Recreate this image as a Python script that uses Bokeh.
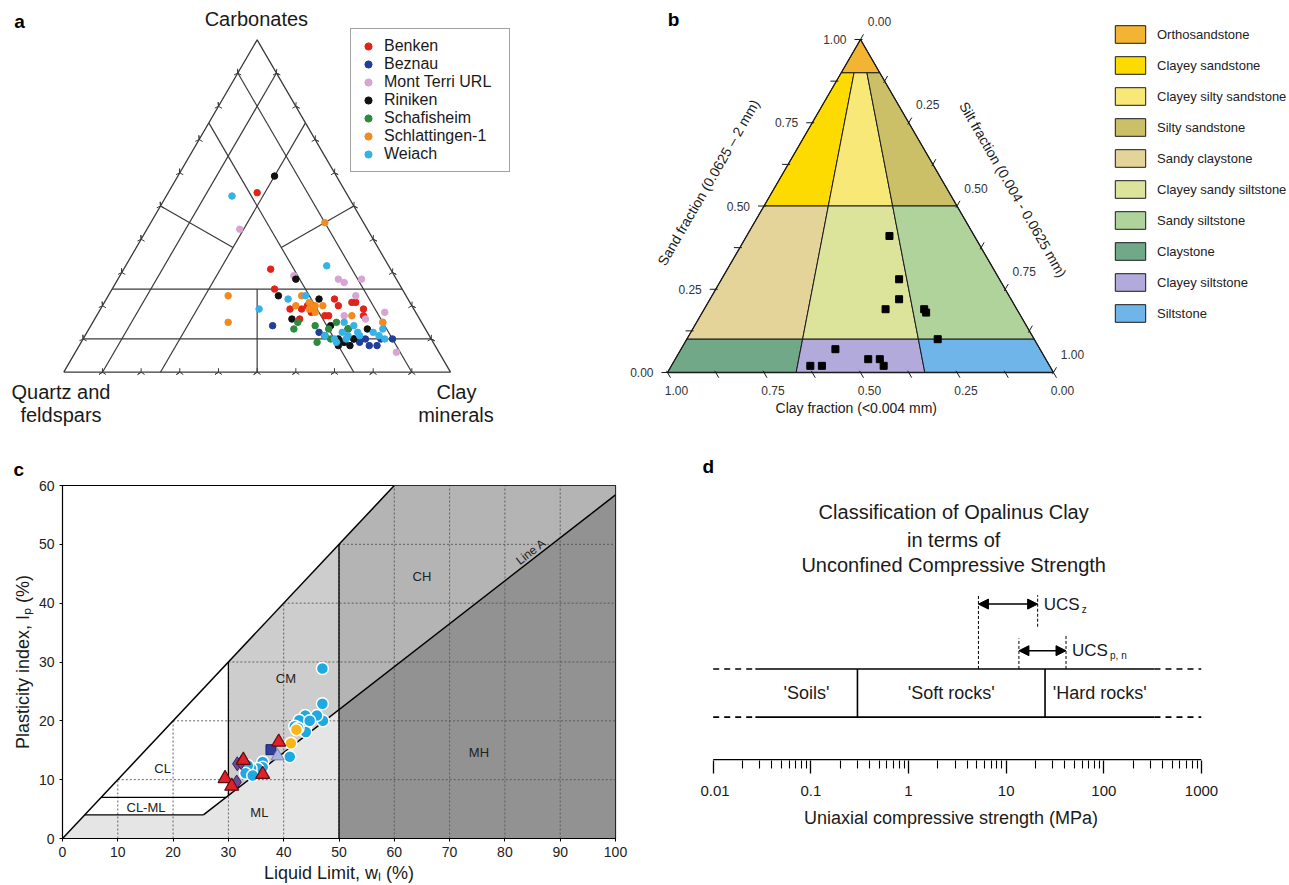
import numpy as np
from bokeh.plotting import figure
from bokeh.layouts import column, row
from bokeh.models import (Range1d, Legend, LegendItem, Arrow, NormalHead,
                          FixedTicker, CustomJSTickFormatter, Title)
from bokeh.core.properties import value
from bokeh.embed import file_html
from bokeh.resources import INLINE

FONT = "Liberation Sans"
S = np.sqrt(3) / 2

# ---------------- Panel a data: mineralogy fractions ----------------
sites = ["Benken", "Beznau", "Mont Terri URL", "Riniken", "Schafisheim", "Schlattingen-1", "Weiach"]
site_colors = ["#E2231A", "#233D9B", "#D7A5D2", "#111111", "#2E8A3C", "#F28A1D", "#35B2E6"]

benken_carb = [0.54, 0.31, 0.25, 0.19, 0.19, 0.20, 0.19, 0.22, 0.21, 0.21, 0.20, 0.17, 0.17, 0.19, 0.17, 0.16, 0.18]
benken_clay = [0.23, 0.38, 0.42, 0.49, 0.52, 0.53, 0.55, 0.59, 0.64, 0.65, 0.61, 0.59, 0.60, 0.68, 0.69, 0.53, 0.55]
beznau_carb = [0.14, 0.12, 0.11, 0.10, 0.09, 0.10, 0.08, 0.08, 0.10, 0.10, 0.09]
beznau_clay = [0.47, 0.60, 0.62, 0.70, 0.72, 0.73, 0.75, 0.77, 0.77, 0.80, 0.68]
montterri_carb = [0.43, 0.28, 0.27, 0.28, 0.23, 0.18, 0.15, 0.06, 0.17, 0.29, 0.16]
montterri_clay = [0.24, 0.57, 0.59, 0.63, 0.64, 0.74, 0.75, 0.83, 0.64, 0.45, 0.70]
riniken_carb = [0.59, 0.28, 0.23, 0.22, 0.16, 0.14, 0.10, 0.08, 0.09, 0.08, 0.10, 0.13, 0.13]
riniken_clay = [0.25, 0.46, 0.44, 0.55, 0.51, 0.62, 0.66, 0.67, 0.68, 0.70, 0.70, 0.72, 0.67]
schafisheim_carb = [0.13, 0.15, 0.14, 0.09, 0.11, 0.15, 0.13, 0.10, 0.13]
schafisheim_clay = [0.53, 0.53, 0.58, 0.61, 0.62, 0.63, 0.67, 0.64, 0.62]
schlattingen_carb = [0.23, 0.15, 0.45, 0.23, 0.21, 0.20, 0.20, 0.19, 0.18, 0.20, 0.17, 0.15]
schlattingen_clay = [0.31, 0.35, 0.45, 0.50, 0.53, 0.55, 0.57, 0.54, 0.56, 0.50, 0.66, 0.75]
weiach_carb = [0.53, 0.32, 0.19, 0.22, 0.23, 0.15, 0.14, 0.11, 0.10, 0.11, 0.12, 0.12, 0.11, 0.13, 0.10, 0.09, 0.10, 0.12, 0.11]
weiach_clay = [0.17, 0.52, 0.41, 0.47, 0.51, 0.65, 0.68, 0.62, 0.65, 0.68, 0.70, 0.74, 0.76, 0.76, 0.78, 0.66, 0.68, 0.66, 0.71]

site_carb = [benken_carb, beznau_carb, montterri_carb, riniken_carb, schafisheim_carb, schlattingen_carb, weiach_carb]
site_clay = [benken_clay, beznau_clay, montterri_clay, riniken_clay, schafisheim_clay, schlattingen_clay, weiach_clay]

# classification lines of panel a (fractions)
a_carb_levels = [0.10, 0.25]
a_clay_levels = [0.10, 0.25]
a_qtz_levels = [0.10, 0.25]

# ---------------- Panel b data: grain size fractions ----------------
b_sand = [0.41, 0.28, 0.22, 0.19, 0.19, 0.18, 0.10, 0.07, 0.02, 0.02, 0.04, 0.04, 0.02]
b_clay = [0.22, 0.26, 0.29, 0.34, 0.24, 0.24, 0.25, 0.53, 0.62, 0.59, 0.46, 0.43, 0.43]
b_sand_levels = [0.0, 0.1, 0.5, 0.9, 1.0]
b_clay_ratios = [1.0, 2 / 3, 1 / 3, 0.0]
b_names = ["Orthosandstone", "Clayey sandstone", "Clayey silty sandstone", "Silty sandstone",
           "Sandy claystone", "Clayey sandy siltstone", "Sandy siltstone",
           "Claystone", "Clayey siltstone", "Siltstone"]
b_colors = ["#F4B433", "#FDDB00", "#F8E878", "#CBC067", "#E4D49A", "#DCE39B",
            "#AFD39A", "#70A888", "#B2AADB", "#70B5EA"]
b_tick_labels = ["0.00", "0.25", "0.50", "0.75", "1.00"]

# ---------------- Panel c data: Atterberg limits ----------------
cyan_wl = [47.0, 47.0, 47.1, 46.0, 43.9, 44.0, 44.0, 42.8, 42.0, 41.1, 36.2, 36.2, 35.3, 34.1, 33.5, 33.1, 34.4, 42.6, 44.7]
cyan_ip = [28.9, 22.9, 20.0, 20.9, 20.9, 19.1, 18.1, 20.1, 19.1, 13.9, 13.0, 12.1, 11.9, 11.9, 12.4, 11.1, 10.7, 18.8, 20.0]
orange_wl = [42.3, 41.3]
orange_ip = [18.5, 16.2]
red_wl = [39.1, 32.7, 36.2, 29.4, 30.6]
red_ip = [16.4, 13.3, 10.9, 10.2, 8.9]
square_wl = [37.7]
square_ip = [15.1]
lav_wl = [38.9]
lav_ip = [14.0]
diam_wl = [31.6, 32.3, 31.5]
diam_ip = [12.7, 12.9, 9.6]

# ---------------- Panel d data: UCS (MPa) ----------------
ucs_bounds = [0.3, 25.0]
ucs_solid = [0.027, 330.0]
ucs_z = [5.2, 21.0]
ucs_pn = [13.5, 41.0]
d_classes = ["'Soils'", "'Soft rocks'", "'Hard rocks'"]
d_ticks = [0.01, 0.1, 1, 10, 100, 1000]


def ta(carb, clay):
    carb = np.asarray(carb, float)
    clay = np.asarray(clay, float)
    return clay + carb / 2, carb * S


def tb(sand, clay):
    sand = np.asarray(sand, float)
    clay = np.asarray(clay, float)
    silt = 1 - sand - clay
    return silt + sand / 2, sand * S


def txt(p, x, y, t, size, align="center", baseline="middle", angle=0, bold=False,
        color="#1a1a1a", xo=0, yo=0):
    p.text(x=x, y=y, text=t, text_font=value(FONT), text_font_size=size,
           text_align=align, text_baseline=baseline, angle=angle,
           text_font_style="bold" if bold else "normal", text_color=color,
           x_offset=xo, y_offset=yo)


def bare(p):
    p.xgrid.visible = False
    p.ygrid.visible = False
    p.outline_line_color = None


# ====================== Panel a ======================
pa = figure(width=620, height=445, x_range=Range1d(-0.16369, 1.43962), y_range=Range1d(-0.19099, 0.96847),
            output_backend="svg", toolbar_location=None, x_axis_location=None, y_axis_location=None,
            min_border=0)
bare(pa)
LC = "#3a3a3a"
segs = []
for c in a_carb_levels:
    segs.append(((c, 0.0), (c, 1 - c)))
for k in a_clay_levels:
    segs.append(((0.0, k), (1 - k, k)))
for q in a_qtz_levels:
    segs.append(((0.0, 1 - q), (1 - q, 0.0)))
segs.append(((0.25, 0.375), (0.0, 0.5)))
segs.append(((0.5, 0.0), (0.375, 0.25)))
segs.append(((0.5, 0.5), (0.375, 0.375)))
for (c0, k0), (c1, k1) in segs:
    xs, ys = ta([c0, c1], [k0, k1])
    pa.line(xs, ys, line_color=LC, line_width=1.2)
tx, ty = ta([0, 1, 0, 0], [0, 0, 1, 0])
pa.line(tx, ty, line_color=LC, line_width=1.3)
kk = np.arange(1, 10) / 10
bx, by = ta(np.zeros(9), kk)
pa.scatter(bx, by, marker="y", size=8, angle=np.pi, line_color=LC, line_width=1)
lx, ly = ta(kk, np.zeros(9))
pa.scatter(lx, ly, marker="y", size=8, angle=np.pi / 3, line_color=LC, line_width=1)
rx, ry = ta(kk, 1 - kk)
pa.scatter(rx, ry, marker="y", size=8, angle=-np.pi / 3, line_color=LC, line_width=1)

items_a = []
for name, col, cb, cl in zip(sites, site_colors, site_carb, site_clay):
    x, y = ta(cb, cl)
    r = pa.scatter(x, y, size=6.5, fill_color=col, line_color=col)
    items_a.append(LegendItem(label=name, renderers=[r]))
leg_a = Legend(items=items_a, location=(350, 273), label_text_font=FONT, label_text_font_size="16px",
               label_text_color="#1a1a1a", glyph_width=18, glyph_height=18, label_height=18,
               spacing=0, padding=8, margin=0, label_standoff=7, label_width=117,
               border_line_color="#444444", border_line_width=1.2, background_fill_alpha=1)
pa.add_layout(leg_a)

txt(pa, [0.498], [0.9215], ["Carbonates"], "20px")
txt(pa, [-0.0072, -0.0072], [-0.0521, -0.1128], ["Quartz and", "feldspars"], "20px")
txt(pa, [1.0155, 1.0142], [-0.0521, -0.1128], ["Clay", "minerals"], "20px")
txt(pa, [-0.1146], [0.9138], ["a"], "19px", bold=True, color="black")

# ====================== Panel b ======================
pb = figure(width=669, height=445, x_range=Range1d(-0.12176, 1.61140), y_range=Range1d(-0.18986, 0.96749),
            output_backend="svg", toolbar_location=None, x_axis_location=None, y_axis_location=None,
            min_border=0)
bare(pb)
regions = []
regions.append(([b_sand_levels[3], 1.0, b_sand_levels[3]], [1.0, 1.0, 0.0]))
for band in [2, 1, 0]:
    s0, s1 = b_sand_levels[band], b_sand_levels[band + 1]
    for j in range(3):
        rh, rl = b_clay_ratios[j], b_clay_ratios[j + 1]
        regions.append(([s0, s1, s1, s0], [rh, rh, rl, rl]))
items_b = []
for name, col, (ss, rr) in zip(b_names, b_colors, regions):
    ss = np.array(ss)
    rr = np.array(rr)
    clay = rr * (1 - ss)
    x, y = tb(ss, clay)
    r = pb.patch(x, y, fill_color=col, line_color="#1a1a1a", line_width=1)
    items_b.append(LegendItem(label=name, renderers=[r]))
tx, ty = tb([1, 0, 0, 1], [0, 1, 0, 0])
pb.line(tx, ty, line_color="#1a1a1a", line_width=1.3)

tv = np.arange(0, 9) / 8
dx, dy = 6 / 386, 6 / 384.5
sx, sy = tb(tv, 1 - tv)
pb.segment(sx - dx, sy, sx + dx / 3, sy, line_color="#1a1a1a", line_width=1)
cx, cy = tb(np.zeros(9), tv)
pb.segment(cx + 0.5 * dx, cy - 0.866 * dy, cx - 0.5 * dx / 3, cy + 0.866 * dy / 3, line_color="#1a1a1a", line_width=1)
rx, ry = tb(1 - tv, np.zeros(9))
pb.segment(rx + 0.5 * dx, ry + 0.866 * dy, rx - 0.5 * dx / 3, ry - 0.866 * dy / 3, line_color="#1a1a1a", line_width=1)

lv = np.array([0, 0.25, 0.5, 0.75, 1.0])
sx, sy = tb(lv, 1 - lv)
txt(pb, sx, sy, b_tick_labels, "12px", align="right", xo=-14, color="#333333")
cx, cy = tb(np.zeros(5), lv)
txt(pb, cx, cy, b_tick_labels, "12px", xo=9, yo=18, color="#333333")
rx, ry = tb(1 - lv, np.zeros(5))
txt(pb, rx, ry, b_tick_labels, "12px", xo=19, yo=-18, color="#333333")

txt(pb, [0.1062], [0.4942], ["Sand fraction (0.0625 \u2013 2 mm)"], "14px", angle=np.pi / 3)
txt(pb, [0.8951], [0.4759], ["Silt fraction (0.004 - 0.0625 mm)"], "14px", angle=-np.pi / 3)
txt(pb, [0.4891], [-0.0936], ["Clay fraction (<0.004 mm)"], "14px")
txt(pb, [0.0155], [0.918], ["b"], "19px", bold=True, color="black")

pb.scatter(*tb(b_sand, b_clay), marker="square", size=7, fill_color="black", line_color="black")

leg_b = Legend(items=items_b, location=(491, 121), label_text_font=FONT, label_text_font_size="13px",
               label_text_color="#222222", glyph_width=38, glyph_height=22, label_height=22,
               spacing=9, padding=0, margin=0, label_standoff=8,
               border_line_color=None, background_fill_alpha=0)
pb.add_layout(leg_b)

# ====================== Panel c ======================
pc = figure(width=700, height=440, x_range=Range1d(0, 100), y_range=Range1d(0, 60),
            output_backend="svg", toolbar_location=None,
            min_border_left=62, min_border_right=85, min_border_top=40, min_border_bottom=47)
pc.xgrid.visible = False
pc.ygrid.visible = False
pc.outline_line_color = "black"
pc.outline_line_width = 1.2
pc.title = Title(text="c", align="left", offset=-49, standoff=12, text_font=FONT,
                 text_font_size="19px", text_font_style="bold", text_color="black")


def a_line(wl):
    return 0.73 * (np.asarray(wl, float) - 20)


wl4 = 20 + 4 / 0.73
wl7 = 20 + 7 / 0.73
pc.patch([0, 4, wl4, 50, 50], [0, 4, 4, a_line(50), 0], fill_color="#E5E5E5", line_color=None)
pc.patch([30, 30, 50, 50], [a_line(30), 30, 50, a_line(50)], fill_color="#CDCDCD", line_color=None)
pc.patch([50, 50, 60, 100, 100], [a_line(50), 50, 60, 60, a_line(100)], fill_color="#B4B4B4", line_color=None)
pc.patch([50, 50, 100, 100], [0, a_line(50), a_line(100), 0], fill_color="#929292", line_color=None)

gx = np.arange(10, 100, 10)
pc.segment(gx, np.zeros(len(gx)), gx, np.minimum(gx, 60), line_color="#555555", line_width=0.9, line_dash="2 2")
gy = np.arange(10, 60, 10)
pc.segment(gy, gy, np.full(len(gy), 100), gy, line_color="#555555", line_width=0.9, line_dash="2 2")

pc.line([0, 60], [0, 60], line_color="black", line_width=1.5)
pc.line([wl4, 100], [4, a_line(100)], line_color="black", line_width=1.5)
pc.line([30, 30], [a_line(30), 30], line_color="black", line_width=1.3)
pc.line([50, 50], [0, 50], line_color="black", line_width=1.3)
pc.line([7, wl7], [7, 7], line_color="black", line_width=1.3)
pc.line([4, wl4], [4, 4], line_color="black", line_width=1.3)

txt(pc, [18.1, 15.1, 35.6, 40.4, 65.0, 75.3], [11.9, 5.2, 4.5, 27.2, 44.5, 14.7],
    ["CL", "CL-ML", "ML", "CM", "CH", "MH"], "13px", color="#222222")
txt(pc, [84.7], [a_line(84.7)], ["Line A"], "12px", angle=0.661, yo=-9, color="#222222")

pc.scatter(cyan_wl, cyan_ip, size=12, fill_color="#1FA9E1", line_color="white", line_width=1.5)
pc.scatter(orange_wl, orange_ip, size=12, fill_color="#FBB516", line_color="white", line_width=1.5)
pc.scatter(diam_wl, diam_ip, marker="diamond", size=14, fill_color="#6A4A96", line_color="#3A2458", line_width=1)
pc.scatter(square_wl, square_ip, marker="square", size=10, fill_color="#2F3F9E", line_color="#1A2466", line_width=1)
pc.scatter(lav_wl, lav_ip, marker="triangle", size=13, fill_color="#A9B3DD", line_color="#7A84B0", line_width=1)
pc.scatter(red_wl, red_ip, marker="triangle", size=14, fill_color="#E0202A", line_color="#5E0D10", line_width=1.2)

pc.xaxis.ticker = FixedTicker(ticks=list(range(0, 101, 10)))
pc.yaxis.ticker = FixedTicker(ticks=list(range(0, 61, 10)))
pc.xaxis.axis_label = "Liquid Limit, w\u2097 (%)"
pc.yaxis.axis_label = "Plasticity index, I\u209a (%)"
for ax in [pc.xaxis[0], pc.yaxis[0]]:
    ax.major_label_text_font = FONT
    ax.major_label_text_font_size = "14px"
    ax.major_label_text_color = "#222222"
    ax.axis_label_text_font = FONT
    ax.axis_label_text_font_size = "18px"
    ax.axis_label_text_font_style = "normal"
    ax.axis_label_text_color = "#1a1a1a"
    ax.major_tick_out = 3
    ax.major_tick_in = 0
    ax.minor_tick_out = 0
    ax.minor_tick_in = 0
    ax.axis_line_color = "black"
    ax.major_label_standoff = 5
    ax.axis_label_standoff = 3

# ====================== Panel d ======================
d_start = 10 ** (-2 - 12.7 / 97.7)
pd_ = figure(width=589, height=440, x_axis_type="log", x_range=Range1d(d_start, 1000), y_range=Range1d(-0.8, 307),
             output_backend="svg", toolbar_location=None, y_axis_location=None,
             min_border_left=0, min_border_right=88, min_border_top=8, min_border_bottom=125)
bare(pd_)
BOX_TOP, BOX_BOT, CLS_Y = 91, 42.7, 66.7
ARR_Z, ARR_PN = 156, 109.3
pd_.line([d_ticks[0], d_ticks[-1]], [0, 0], line_color="black", line_width=1.5)
for yy in [BOX_TOP, BOX_BOT]:
    pd_.line(ucs_solid, [yy, yy], line_color="black", line_width=1.6)
    pd_.line([d_ticks[0], ucs_solid[0]], [yy, yy], line_color="black", line_width=1.6, line_dash="6 5")
    pd_.line([ucs_solid[1], d_ticks[-1]], [yy, yy], line_color="black", line_width=1.6, line_dash="6 5")
for b in ucs_bounds:
    pd_.line([b, b], [BOX_BOT, BOX_TOP], line_color="black", line_width=1.6)
cls_x = [np.sqrt(ucs_solid[0] * ucs_bounds[0]), np.sqrt(ucs_bounds[0] * ucs_bounds[1]),
         np.sqrt(ucs_bounds[1] * ucs_solid[1])]
txt(pd_, cls_x, [CLS_Y] * 3, d_classes, "18px")

pd_.line([ucs_z[0]] * 2, [BOX_TOP, 165], line_color="black", line_width=1, line_dash="3 2")
pd_.line([ucs_z[1]] * 2, [133.3, 165], line_color="black", line_width=1, line_dash="3 2")
pd_.line([ucs_pn[0]] * 2, [BOX_TOP, 121.7], line_color="black", line_width=1, line_dash="3 2")
pd_.line([ucs_pn[1]] * 2, [BOX_TOP, 125], line_color="black", line_width=1, line_dash="3 2")
pd_.add_layout(Arrow(start=NormalHead(size=10, fill_color="black", line_color="black"),
                     end=NormalHead(size=10, fill_color="black", line_color="black"),
                     x_start=ucs_z[0], x_end=ucs_z[1], y_start=ARR_Z, y_end=ARR_Z, line_width=1.5))
pd_.add_layout(Arrow(start=NormalHead(size=10, fill_color="black", line_color="black"),
                     end=NormalHead(size=10, fill_color="black", line_color="black"),
                     x_start=ucs_pn[0], x_end=ucs_pn[1], y_start=ARR_PN, y_end=ARR_PN, line_width=1.5))
txt(pd_, [ucs_z[1], ucs_pn[1]], [ARR_Z, ARR_PN], ["UCS", "UCS"], "17px", align="left", xo=6)
txt(pd_, [ucs_z[1]], [ARR_Z], ["z"], "10px", align="left", xo=44, yo=5)
txt(pd_, [ucs_pn[1]], [ARR_PN], ["p, n"], "10px", align="left", xo=44, yo=5)

txt(pd_, [2.9] * 3, [248.3, 220.7, 195], ["Classification of Opalinus Clay", "in terms of",
                                          "Unconfined Compressive Strength"], "20px")
txt(pd_, [d_ticks[0]], [294], ["d"], "19px", bold=True, color="black", xo=-5)

minor = [m * 10.0 ** k for k in range(-2, 3) for m in range(2, 10)]
ax = pd_.xaxis[0]
ax.ticker = FixedTicker(ticks=d_ticks, minor_ticks=minor)
ax.formatter = CustomJSTickFormatter(code="return String(Number(tick.toPrecision(6)));")
ax.axis_label = "Uniaxial compressive strength (MPa)"
ax.axis_line_color = None
ax.major_tick_out = 13
ax.major_tick_in = 0
ax.minor_tick_out = 8
ax.minor_tick_in = 0
ax.major_tick_line_width = 1.3
ax.minor_tick_line_width = 1.1
ax.major_label_text_font = FONT
ax.major_label_text_font_size = "15px"
ax.major_label_text_color = "#1a1a1a"
ax.major_label_standoff = 12
ax.axis_label_text_font = FONT
ax.axis_label_text_font_size = "18px"
ax.axis_label_text_font_style = "normal"
ax.axis_label_text_color = "#1a1a1a"
ax.axis_label_standoff = 9

layout = column(row(pa, pb), row(column(pc), column(pd_)))
open("out.html", "w").write(file_html(layout, INLINE))
